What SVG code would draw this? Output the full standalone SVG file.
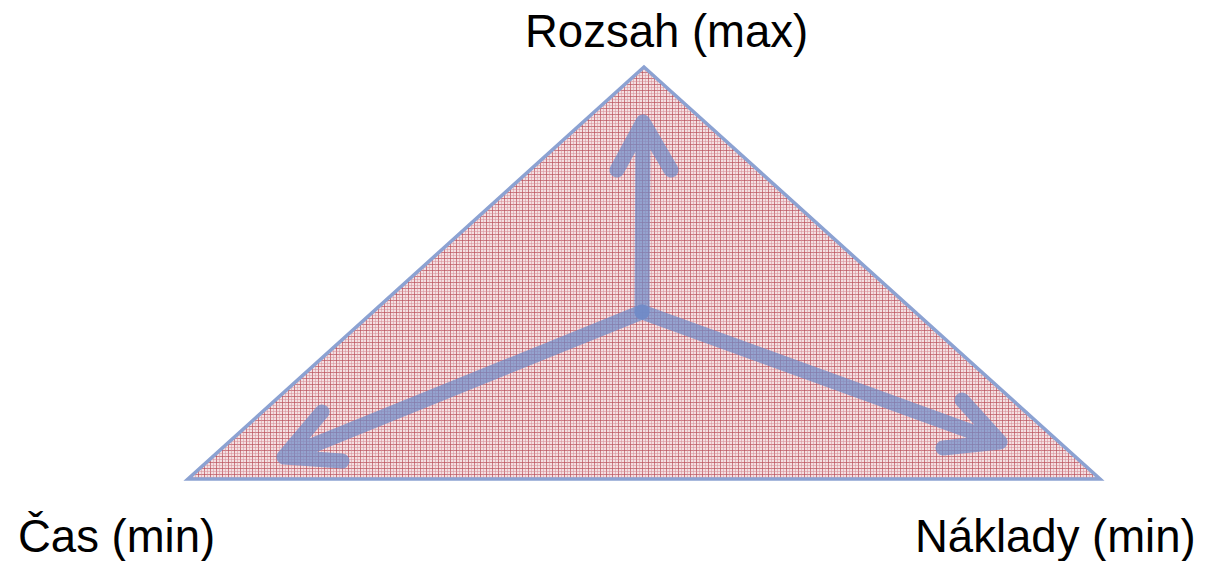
<svg xmlns="http://www.w3.org/2000/svg" width="1208" height="561" viewBox="0 0 1208 561">
  <style>
    .label { font-family: "Liberation Sans", Arial, sans-serif; font-size: 45.5px; fill: #000; }
    .arrow { fill: none; stroke: #6f8ac8; stroke-opacity: 0.72; stroke-width: 15; stroke-linecap: round; stroke-linejoin: round; }
    .tri { fill: url(#plaid); stroke: #8ca2d2; stroke-width: 3.5; stroke-linejoin: miter; }
  </style>
  <defs>
    <pattern id="plaid" width="6" height="6" patternUnits="userSpaceOnUse">
      <rect width="6" height="6" fill="#f4e0e2"/>
      <rect x="0" y="0" width="1" height="6" fill="#b9505c" fill-opacity="0.7"/>
      <rect x="0" y="0" width="6" height="1" fill="#b9505c" fill-opacity="0.7"/>
      <rect x="3" y="0" width="1" height="6" fill="#d58a93" fill-opacity="0.5"/>
      <rect x="0" y="3" width="6" height="1" fill="#d58a93" fill-opacity="0.5"/>
    </pattern>
  </defs>
  <rect width="1208" height="561" fill="#ffffff"/>
  <g id="triangle">
    <polygon class="tri" points="644,67 188,479 1100,479"/>
  </g>
  <g id="connectors">
    <path class="arrow" d="M642,312 L643,122 M617,170 L643,122 L671,170"/>
    <path class="arrow" d="M642,312 L284,457 M322,412 L284,457 L342,461"/>
    <path class="arrow" d="M642,312 L1000,442 M962,400 L1000,442 L943,448"/>
  </g>
  <g id="rozsah">
    <text class="label" x="525" y="47">Rozsah (max)</text>
  </g>
  <g id="cas">
    <text class="label" x="18" y="552">Čas (min)</text>
  </g>
  <g id="naklady">
    <text class="label" x="915" y="552">Náklady (min)</text>
  </g>
</svg>
